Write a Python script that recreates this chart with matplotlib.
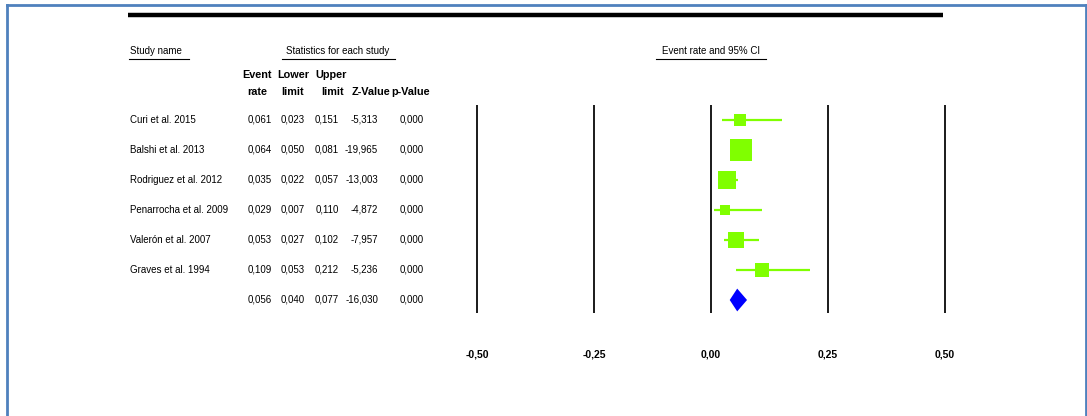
import matplotlib.pyplot as plt
from matplotlib.transforms import blended_transform_factory

plt.rcParams['font.family'] = ['Liberation Sans', 'DejaVu Sans']

# study table
studies = ['Curi et al. 2015', 'Balshi et al. 2013', 'Rodriguez et al. 2012',
           'Penarrocha et al. 2009', 'Valerón et al. 2007', 'Graves et al. 1994']
event_rate = [0.061, 0.064, 0.035, 0.029, 0.053, 0.109]
lower = [0.023, 0.050, 0.022, 0.007, 0.027, 0.053]
upper = [0.151, 0.081, 0.057, 0.110, 0.102, 0.212]
z_value = [-5.313, -19.965, -13.003, -4.872, -7.957, -5.236]
p_value = [0.000, 0.000, 0.000, 0.000, 0.000, 0.000]
weights = [8.9, 32.8, 22.4, 6.2, 15.9, 13.9]   # relative weight (%)

# pooled estimate
pooled = {'rate': 0.056, 'lower': 0.040, 'upper': 0.077, 'z': -16.030, 'p': 0.000}

xticks = [-0.50, -0.25, 0.00, 0.25, 0.50]

W, H = 1087, 416
fig = plt.figure(figsize=(W / 100, H / 100), dpi=100)

# full-figure layer in pixel units for frame, rules and headers
bg = fig.add_axes([0, 0, 1, 1])
bg.set_xlim(0, W)
bg.set_ylim(H, 0)
bg.axis('off')

# forest panel: 0 at x=711 px, 468 px per unit; rows every 30 px from y=120
x0, scale = 711, 468
xmin, xmax = -0.53, 0.53
ytop, ybot = -0.5, (313 - 120) / 30
left_px = x0 + xmin * scale
right_px = x0 + xmax * scale
ax = fig.add_axes([left_px / W, 1 - 313 / H, (right_px - left_px) / W, (313 - 105) / H])
ax.set_xlim(xmin, xmax)
ax.set_ylim(ybot, ytop)
for s in ax.spines.values():
    s.set_visible(False)
ax.patch.set_alpha(0)

for t in xticks:
    ax.axvline(t, color='#1a1a1a', lw=1.4)

ax.set_xticks(xticks)
ax.set_xticklabels([f'{t:.2f}'.replace('.', ',') for t in xticks],
                   fontsize=7.5, fontweight='bold')
ax.tick_params(axis='x', length=0, pad=26.5)
ax.set_yticks([])

green = '#80ff00'
for i, (r, lo, hi, w) in enumerate(zip(event_rate, lower, upper, weights)):
    ax.plot([lo, hi], [i, i], color=green, lw=1.6, solid_capstyle='butt')
    side = 4.0 * w ** 0.5
    ax.plot(r, i, marker='s', color=green, markersize=side * 0.72,
            markeredgewidth=0, linestyle='none')

k = len(studies)
h = 0.38
ax.fill([pooled['lower'], pooled['rate'], pooled['upper'], pooled['rate']],
        [k, k - h, k, k + h], color='#0000ff', lw=0)

# frame and top rule
frame = '#4f81bd'
bg.plot([7, 7], [5, H], color=frame, lw=2)
bg.plot([7, 1086], [5, 5], color=frame, lw=2)
bg.plot([1086, 1086], [5, H], color=frame, lw=2)
bg.plot([128, 943], [15, 15], color='black', lw=3.2, solid_capstyle='butt')


# column group headers (underlined)
def header(x, y, text, x1, x2, ha='left'):
    bg.text(x, y, text, fontsize=7, ha=ha, va='center')
    bg.plot([x1, x2], [y + 8, y + 8], color='black', lw=0.8)


header(130, 51, 'Study name', 129, 189)
header(338, 51, 'Statistics for each study', 282, 395, ha='center')
header(711, 51, 'Event rate and 95% CI', 656, 766, ha='center')

hb = dict(fontsize=7.8, fontweight='bold', va='center', ha='center')
bg.text(257, 75, 'Event', **hb)
bg.text(257, 92, 'rate', **hb)
bg.text(293, 75, 'Lower', **hb)
bg.text(293, 92, 'limit', **hb)
bg.text(331, 75, 'Upper', **hb)
bg.text(333, 92, 'limit', **hb)
bg.text(371, 92, 'Z-Value', **hb)
bg.text(411, 92, 'p-Value', **hb)

# table rows, aligned with forest rows
tr = blended_transform_factory(bg.transData, ax.transData)


def fmt(v):
    return f'{v:.3f}'.replace('.', ',')


col_x = [272, 305, 339, 378, 424]
cols = [event_rate, lower, upper, z_value, p_value]
for i, name in enumerate(studies):
    bg.text(130, i, name, transform=tr, fontsize=7, va='center')
    for x, vals in zip(col_x, cols):
        bg.text(x, i, fmt(vals[i]), transform=tr, fontsize=7, ha='right', va='center')

for x, key in zip(col_x, ['rate', 'lower', 'upper', 'z', 'p']):
    bg.text(x, k, fmt(pooled[key]), transform=tr, fontsize=7, ha='right', va='center')

fig.savefig('out.png', dpi=100)
